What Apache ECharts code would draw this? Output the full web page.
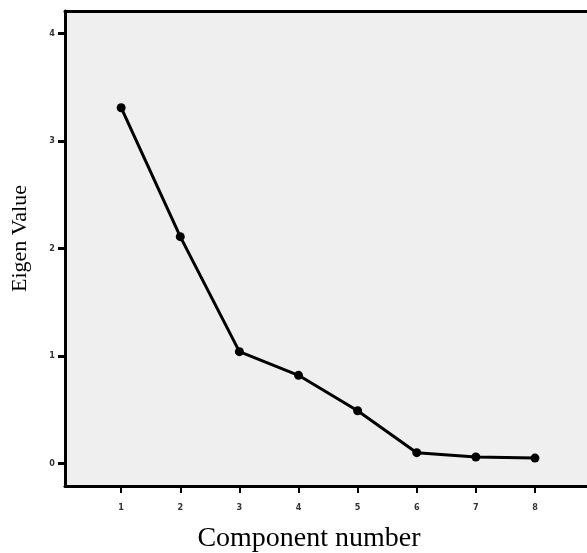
<!DOCTYPE html>
<html>
<head>
<meta charset="utf-8">
<script src="https://cdn.jsdelivr.net/npm/echarts@6/dist/echarts.min.js"></script>
<style>html,body{margin:0;padding:0;background:#fff}#c{width:587px;height:553px}</style>
</head>
<body>
<div id="c"></div>
<script>
const components = [1, 2, 3, 4, 5, 6, 7, 8];
const eigenValues = [3.31, 2.11, 1.04, 0.82, 0.49, 0.10, 0.06, 0.05];
const xTicks = [1, 2, 3, 4, 5, 6, 7, 8];
const yTicks = [0, 1, 2, 3, 4];

const chart = echarts.init(document.getElementById('c'), null, {renderer: 'canvas'});
const tickLabelStyle = {fontFamily: 'Liberation Sans Narrow, DejaVu Sans Condensed, sans-serif', fontSize: 9, color: '#333', fontWeight: 'bold'};
chart.setOption({
  animation: false,
  backgroundColor: '#fff',
  grid: {left: 65, right: 0, top: 11, bottom: 67, backgroundColor: '#efefef', show: true, borderWidth: 0, containLabel: false, outerBoundsMode: 'none'},
  xAxis: [{
    type: 'value', min: 0.05, max: 8.88,
    name: 'Component number', nameLocation: 'middle', nameGap: 39,
    nameTextStyle: {fontFamily: 'Liberation Serif', fontSize: 28, color: '#000', padding: [0, 34, 0, 0]},
    axisLine: {show: true, onZero: false, lineStyle: {color: '#000', width: 3}},
    axisTick: {show: true, customValues: xTicks, length: 7, lineStyle: {color: '#000', width: 2}},
    axisLabel: {customValues: xTicks, margin: 17, ...tickLabelStyle},
    splitLine: {show: false}
  }, {
    type: 'value', position: 'top', min: 0.05, max: 8.88,
    axisLine: {show: true, onZero: false, lineStyle: {color: '#000', width: 3}},
    axisTick: {show: false}, axisLabel: {show: false}, splitLine: {show: false}
  }],
  yAxis: {
    type: 'value', min: -0.21, max: 4.21,
    name: 'Eigen Value', nameLocation: 'middle', nameGap: 34,
    nameTextStyle: {fontFamily: 'Liberation Serif', fontSize: 22, color: '#000', padding: [0, 0, 0, 20]},
    axisLine: {show: true, onZero: false, lineStyle: {color: '#000', width: 3}},
    axisTick: {show: true, customValues: yTicks, length: 7, lineStyle: {color: '#000', width: 3}},
    axisLabel: {customValues: yTicks, margin: 10, ...tickLabelStyle},
    splitLine: {show: false}
  },
  series: [{
    type: 'line',
    data: components.map((c, i) => [c, eigenValues[i]]),
    symbol: 'circle', symbolSize: 9,
    itemStyle: {color: '#000'},
    lineStyle: {color: '#000', width: 3}
  }]
});
</script>
</body>
</html>
